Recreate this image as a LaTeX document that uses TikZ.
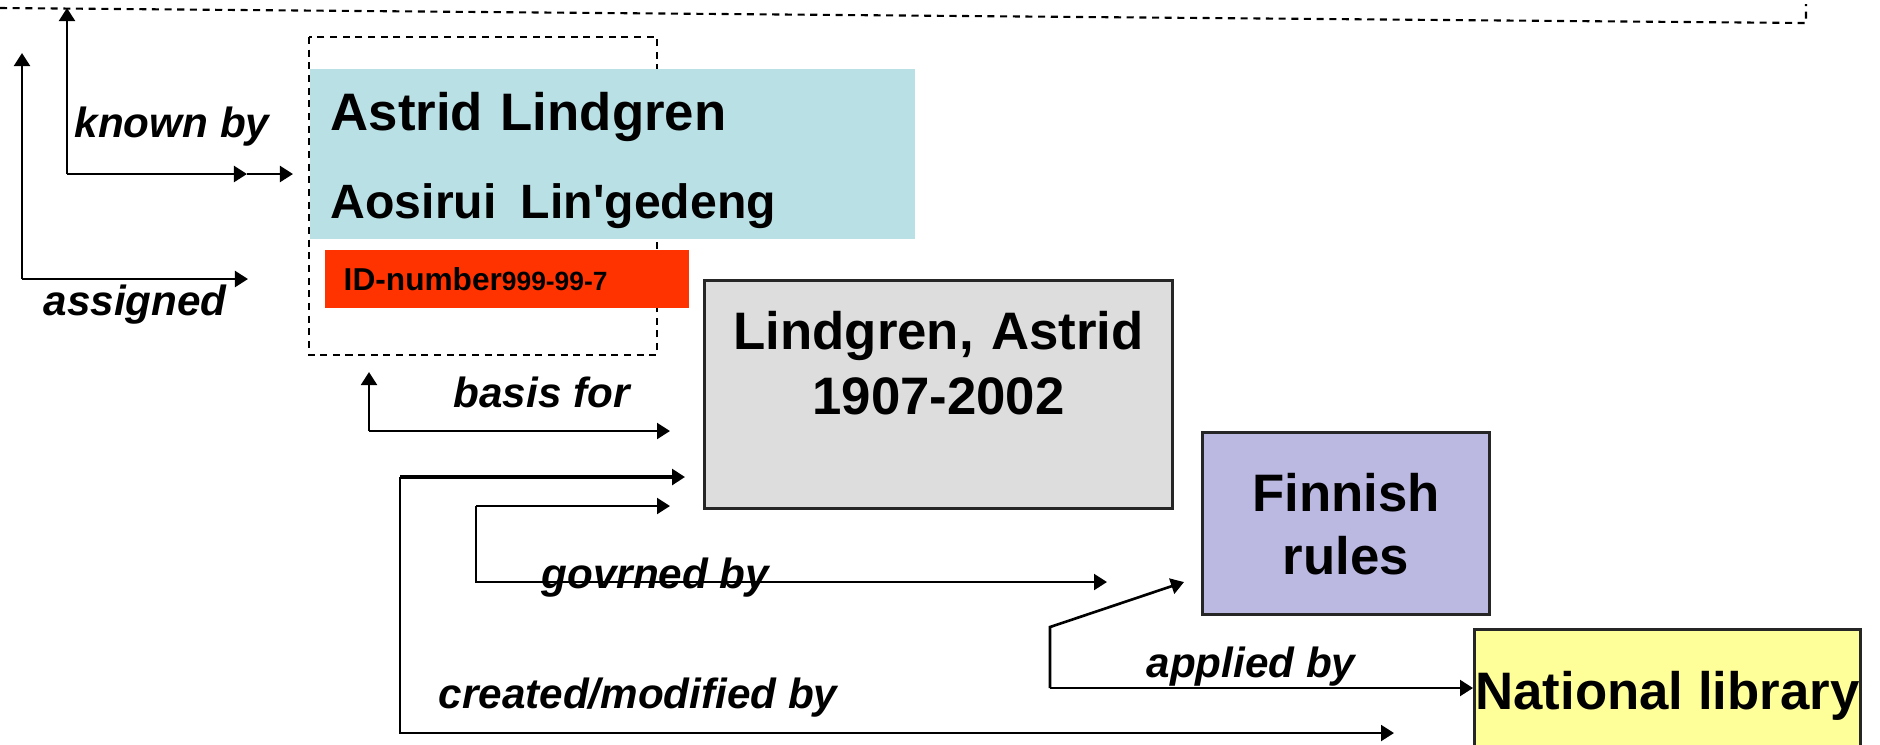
\documentclass[tikz,border=0pt]{standalone}
\usepackage{fontspec}
\setmainfont{Liberation Sans}
\usetikzlibrary{arrows.meta}
\definecolor{namecyan}{HTML}{B9E0E4}
\definecolor{idred}{HTML}{FF3300}
\definecolor{formgrey}{HTML}{DDDDDD}
\definecolor{rulesblue}{HTML}{BBB8E2}
\definecolor{libyellow}{HTML}{FFFF99}
\tikzset{
    link/.style={line width=0.75pt,-{Triangle[length=3.7pt,width=4.5pt]}},
    plain/.style={line width=0.75pt},
    dashline/.style={line width=0.6pt,dash pattern=on 2pt off 1.6pt},
    box/.style={anchor=north west,inner ysep=0pt},
    lbl/.style={anchor=base west,inner sep=0pt,font=\fontsize{12}{14}\selectfont\bfseries\itshape},
}
\begin{document}
\begin{tikzpicture}[x=0.01cm,y=-0.01cm]
        \useasboundingbox (0,0) rectangle (1880,744);
        \draw[dashline] (0,8) -- (1806,23) -- (1806,4);
        \draw[dashline] (309,37) rectangle (657,355);

        \node[box,fill=namecyan,text width=5.63cm,inner xsep=0.21cm,align=left,text height=0.62cm,text depth=1.08cm,font=\fontsize{15}{25}\selectfont\bfseries] (names) at (309,68) {Astrid Lindgren\\{\fontsize{13.7}{25}\selectfont Aosirui\hspace{6.9pt}Lin\textquotesingle gedeng}};
        \node[box,fill=idred,text width=3.26cm,inner xsep=0.19cm,align=left,text height=0.41cm,text depth=0.17cm,font=\bfseries] (idnum) at (324,249) {{\fontsize{9}{10}\selectfont ID-number}{\fontsize{7.5}{9}\selectfont 999-99-7}};
        \node[box,draw=black!85,line width=0.8pt,fill=formgrey,text width=4.68cm,inner xsep=0pt,align=center,text height=0.69cm,text depth=1.59cm,font=\fontsize{15}{18.5}\selectfont\bfseries] (heading) at (703,279) {Lindgren, Astrid\\1907-2002};
        \node[box,draw=black!85,line width=0.8pt,fill=rulesblue,text width=2.87cm,inner xsep=0pt,align=center,text height=0.79cm,text depth=1.03cm,font=\fontsize{15}{17.9}\selectfont\bfseries] (rules) at (1201,431) {Finnish\\rules};
        \node[box,draw=black!85,line width=0.8pt,fill=libyellow,minimum width=3.86cm,inner xsep=0pt,text height=0.8cm,text depth=0.6cm,font=\fontsize{15}{18}\selectfont\bfseries] (library) at (1473,628) {National library};

        \coordinate (kb) at (67,174);
        \coordinate (kbtop) at (67,8);
        \coordinate (kbmid) at (247,174);
        \coordinate (kbend) at (293,174);
        \draw[link] (kb) -- (kbtop);
        \draw[link] (kb) -- (kbmid);
        \draw[link] (kbmid) -- (kbend);

        \coordinate (as) at (22,279);
        \coordinate (astop) at (22,53);
        \coordinate (asend) at (248,279);
        \draw[link] (as) -- (astop);
        \draw[link] (as) -- (asend);

        \coordinate (bf) at (369,431);
        \coordinate (bftop) at (369,372);
        \coordinate (bfend) at (670,431);
        \draw[link] (bf) -- (bftop);
        \draw[link] (bf) -- (bfend);

        \coordinate (cm) at (400,477);
        \coordinate (cmend) at (685,477);
        \coordinate (cmlow) at (400,733);
        \coordinate (cmlowend) at (1394,733);
        \draw[link,line width=1.1pt] (cm) -- (cmend);
        \draw[link] (cm) -- (cmlow) -- (cmlowend);

        \coordinate (gb) at (476,506);
        \coordinate (gbend) at (670,506);
        \coordinate (gblow) at (476,582);
        \coordinate (gblowend) at (1107,582);
        \draw[link] (gb) -- (gbend);
        \draw[link] (gb) -- (gblow) -- (gblowend);

        \coordinate (ab) at (1050,688);
        \coordinate (abup) at (1050,627);
        \coordinate (abend) at (1184,582);
        \draw[link] (ab) -- (abup) -- (abend);
        \draw[link] (ab) -- (library.west |- ab);

        \node[lbl] (knownlbl) at (74,137) {known by};
        \node[lbl] (assignedlbl) at (43,315) {assigned};
        \node[lbl] (basislbl) at (453,407) {basis for};
        \node[lbl] (govlbl) at (541,588) {govrned by};
        \node[lbl] (createdlbl) at (438,708) {created/modified by};
        \node[lbl] (appliedlbl) at (1146,677) {applied by};
\end{tikzpicture}
\end{document}
